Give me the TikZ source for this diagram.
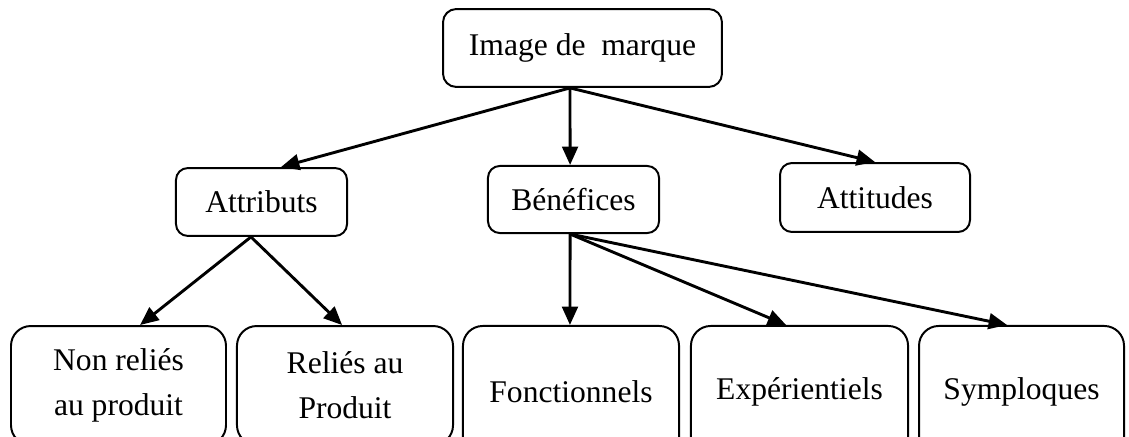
\documentclass[tikz,border=0pt]{standalone}
\usepackage{fontspec}
\setmainfont{Liberation Serif}
\usetikzlibrary{arrows.meta}

\begin{document}
\begin{tikzpicture}[x=0.38pt, y=-0.38pt, font=\fontsize{12}{17}\selectfont,
        box/.style={draw, line width=0.75pt, rounded corners=5pt, align=center, inner sep=0pt},
        bas/.style={box, rounded corners=7.5pt},
        arr/.style={line width=1.1pt, -{Triangle[length=7pt, width=6pt]}}]
                \useasboundingbox (0,0) rectangle (1129,437);

                \node[box, minimum width=106pt, minimum height=29.6pt] (image) at (582.5,48) {Image de~ marque};

                \node[box, minimum width=65pt, minimum height=25.8pt, rounded corners=4.5pt] (attributs) at (261.5,202) {Attributs};
                \node[box, minimum width=65pt, minimum height=25.5pt, rounded corners=4.5pt] (benefices) at (573.5,199.5) {Bénéfices};
                \node[box, minimum width=72.2pt, minimum height=26.2pt, rounded corners=4.5pt] (attitudes) at (875,197.5) {Attitudes};

                \node[bas, minimum width=81.7pt, minimum height=45.2pt] (nonrelies) at (118.5,385.5) {Non reliés\\au produit};
                \node[bas, minimum width=82.1pt, minimum height=45.2pt] (relies) at (345,385.5) {Reliés au\\Produit};
                \node[bas, minimum width=82.1pt, minimum height=49.8pt] (fonct) at (571,391.5) {Fonctionnels};
                \node[bas, minimum width=82.5pt, minimum height=49.8pt] (exper) at (799.5,391.5) {Expérientiels};
                \node[bas, minimum width=77.9pt, minimum height=49.8pt] (symp) at (1021.5,391.5) {Symploques};

                \draw[arr] ([xshift=-4.75pt]image.south) -- ([xshift=7.4pt]attributs.north);
                \draw[arr] ([xshift=-4.75pt]image.south) -- ([xshift=-1.3pt]benefices.north);
                \draw[arr] ([xshift=-4.75pt]image.south) -- (attitudes.north);

                \draw[arr] ([xshift=-4pt]attributs.south) -- ([xshift=8.2pt]nonrelies.north);
                \draw[arr] ([xshift=-4pt]attributs.south) -- ([xshift=-1.1pt]relies.north);

                \draw[arr] ([xshift=-1.3pt]benefices.south) -- ([xshift=-0.4pt]fonct.north);
                \draw[arr] ([xshift=-1.3pt]benefices.south) -- ([xshift=-5.1pt]exper.north);
                \draw[arr] ([xshift=-1.3pt]benefices.south) -- ([xshift=-5.5pt]symp.north);
            \end{tikzpicture}
\end{document}
